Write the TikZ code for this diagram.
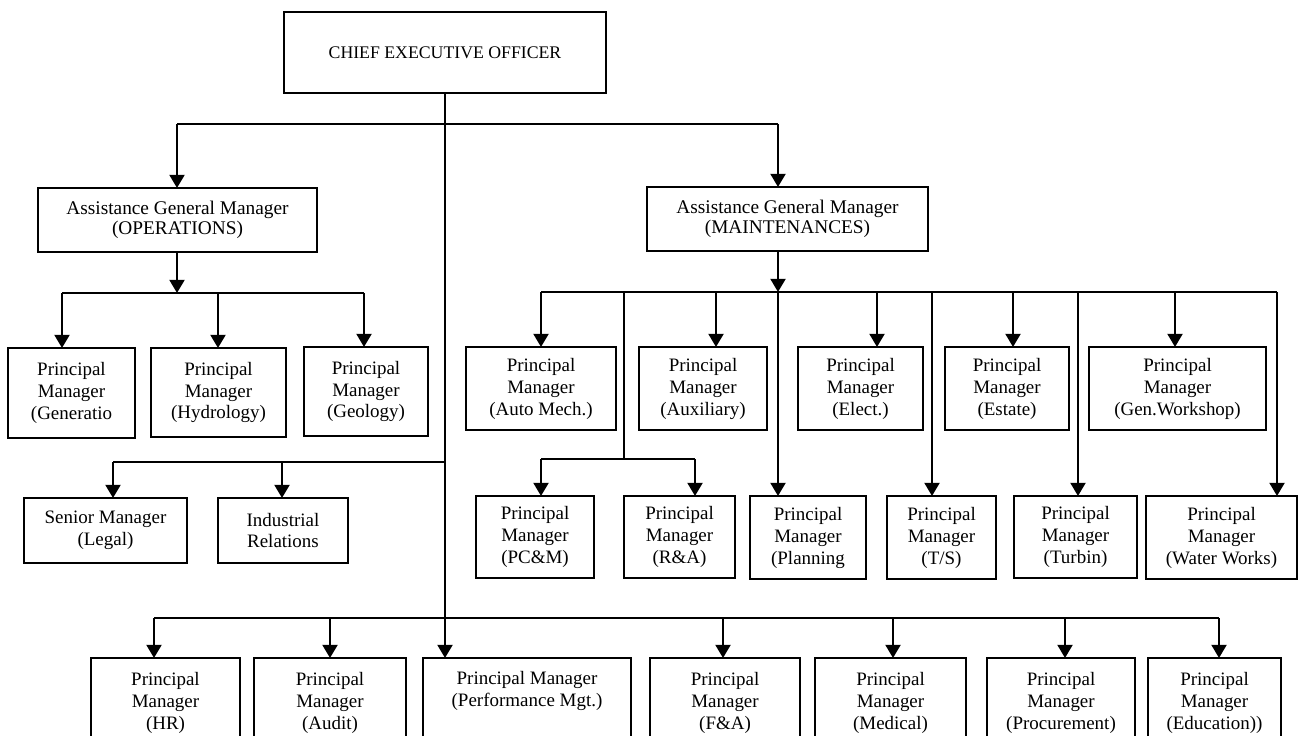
\documentclass[tikz,border=0pt]{standalone}
\usepackage{fontspec}
\setmainfont{Liberation Serif}
\usetikzlibrary{arrows.meta}
\tikzset{
  box/.style={draw, line width=1.35pt, inner sep=0pt, outer sep=0pt, align=center,
    font=\fontsize{10.8}{12.5}\selectfont},
  agm/.style={font=\fontsize{11}{11.5}\selectfont},
  conn/.style={line width=1.35pt},
  arr/.style={conn, -{Triangle[width=8.5pt,length=7.5pt]}},
}
\newcommand{\mybox}[7][]{\node[box, #1, minimum width={(#5-#3)*0.02cm}, minimum height={(#6-#4)*0.02cm}] (#2) at ({(#3+#5)/2},{(#4+#6)/2}) {#7};}
\begin{document}
\begin{tikzpicture}[x=0.02cm, y=-0.02cm]
\useasboundingbox (0,0) rectangle (1300,736);
\clip (0,0) rectangle (1300,736);
% nodes
\mybox[font=\fontsize{10.1}{12}\selectfont]{ceo}{284}{12}{606}{93}{CHIEF EXECUTIVE OFFICER}
\mybox[agm]{agmo}{38}{188}{317}{252}{Assistance General Manager\\(OPERATIONS)}
\mybox[agm]{agmm}{647}{187}{928}{251}{Assistance General Manager\\(MAINTENANCES)}
\mybox{gen}{8}{348}{135}{438}{Principal\\Manager\\(Generatio}
\mybox{hyd}{151}{348}{286}{437}{Principal\\Manager\\(Hydrology)}
\mybox{geo}{304}{347}{428}{436}{Principal\\Manager\\(Geology)}
\mybox{legal}{24}{498}{187}{563}{Senior Manager\\(Legal)}
\mybox{ind}{218}{498}{348}{563}{Industrial\\Relations}
\mybox{auto}{466}{347}{616}{430}{Principal\\Manager\\(Auto Mech.)}
\mybox{aux}{639}{347}{767}{430}{Principal\\Manager\\(Auxiliary)}
\mybox{elec}{798}{347}{923}{430}{Principal\\Manager\\(Elect.)}
\mybox{est}{945}{347}{1069}{430}{Principal\\Manager\\(Estate)}
\mybox{gw}{1089}{347}{1266}{430}{Principal\\Manager\\(Gen.Workshop)}
\mybox{pcm}{476}{496}{594}{578}{Principal\\Manager\\(PC\&M)}
\mybox{ra}{624}{496}{735}{578}{Principal\\Manager\\(R\&A)}
\mybox{plan}{750}{496}{866}{579}{Principal\\Manager\\(Planning}
\mybox{ts}{887}{496}{996}{579}{Principal\\Manager\\(T/S)}
\mybox{turb}{1014}{496}{1137}{578}{Principal\\Manager\\(Turbin)}
\mybox{ww}{1146}{496}{1297}{579}{Principal\\Manager\\(Water Works)}
\mybox{hr}{91}{658}{240}{748}{Principal\\Manager\\(HR)}
\mybox{aud}{254}{658}{406}{748}{Principal\\Manager\\(Audit)}
\mybox{perf}{423}{658}{631}{748}{Principal Manager\\(Performance Mgt.)\\\strut}
\mybox{fa}{650}{658}{800}{748}{Principal\\Manager\\(F\&A)}
\mybox{med}{815}{658}{966}{748}{Principal\\Manager\\(Medical)}
\mybox{proc}{987}{658}{1135}{748}{Principal\\Manager\\(Procurement)}
\mybox{edu}{1148}{658}{1281}{748}{Principal\\Manager\\(Education))}
% coordinates
\coordinate (b1L) at (177,124);
\coordinate (b1R) at (778,124);
\coordinate (oL) at (62,293);
\coordinate (oH) at (218,293);
\coordinate (oR) at (364,293);
\coordinate (oM) at (177,293);
\coordinate (lL) at (113,462);
\coordinate (lI) at (282,462);
\coordinate (lT) at (445,462);
\coordinate (mM) at (778,292);
\coordinate (mL) at (541,292);
\coordinate (mR) at (1277,292);
\coordinate (mA) at (716,292);
\coordinate (mE) at (877,292);
\coordinate (mS) at (1013,292);
\coordinate (mG) at (1175,292);
\coordinate (mP) at (624,292);
\coordinate (mT) at (932,292);
\coordinate (mU) at (1078,292);
\coordinate (pB) at (624,459);
\coordinate (pL) at (541,459);
\coordinate (pR) at (695,459);
\coordinate (qL) at (154,618);
\coordinate (qA) at (330,618);
\coordinate (qF) at (723,618);
\coordinate (qM) at (893,618);
\coordinate (qP) at (1065,618);
\coordinate (qR) at (1219,618);
% trunk
\draw[arr] (ceo.south) -- (ceo.south |- perf.north);
% top bus
\draw[conn] (b1L) -- (b1R);
\draw[arr] (b1L) -- (b1L |- agmo.north);
\draw[arr] (b1R) -- (b1R |- agmm.north);
% operations
\draw[arr] (oM |- agmo.south) -- (oM);
\draw[conn] (oL) -- (oR);
\draw[arr] (oL) -- (oL |- gen.north);
\draw[arr] (oH) -- (oH |- hyd.north);
\draw[arr] (oR) -- (oR |- geo.north);
% legal
\draw[conn] (lL) -- (lT);
\draw[arr] (lL) -- (lL |- legal.north);
\draw[arr] (lI) -- (lI |- ind.north);
% maintenance
\draw[arr] (mM |- agmm.south) -- (mM);
\draw[conn] (mL) -- (mR);
\draw[arr] (mL) -- (mL |- auto.north);
\draw[arr] (mA) -- (mA |- aux.north);
\draw[arr] (mE) -- (mE |- elec.north);
\draw[arr] (mS) -- (mS |- est.north);
\draw[arr] (mG) -- (mG |- gw.north);
\draw[arr] (mM) -- (mM |- plan.north);
\draw[arr] (mT) -- (mT |- ts.north);
\draw[arr] (mU) -- (mU |- turb.north);
\draw[arr] (mR) -- (mR |- ww.north);
\draw[conn] (mP) -- (pB);
\draw[conn] (pL) -- (pR);
\draw[arr] (pL) -- (pL |- pcm.north);
\draw[arr] (pR) -- (pR |- ra.north);
% bottom bus
\draw[conn] (qL) -- (qR);
\draw[arr] (qL) -- (qL |- hr.north);
\draw[arr] (qA) -- (qA |- aud.north);
\draw[arr] (qF) -- (qF |- fa.north);
\draw[arr] (qM) -- (qM |- med.north);
\draw[arr] (qP) -- (qP |- proc.north);
\draw[arr] (qR) -- (qR |- edu.north);
\end{tikzpicture}
\end{document}
